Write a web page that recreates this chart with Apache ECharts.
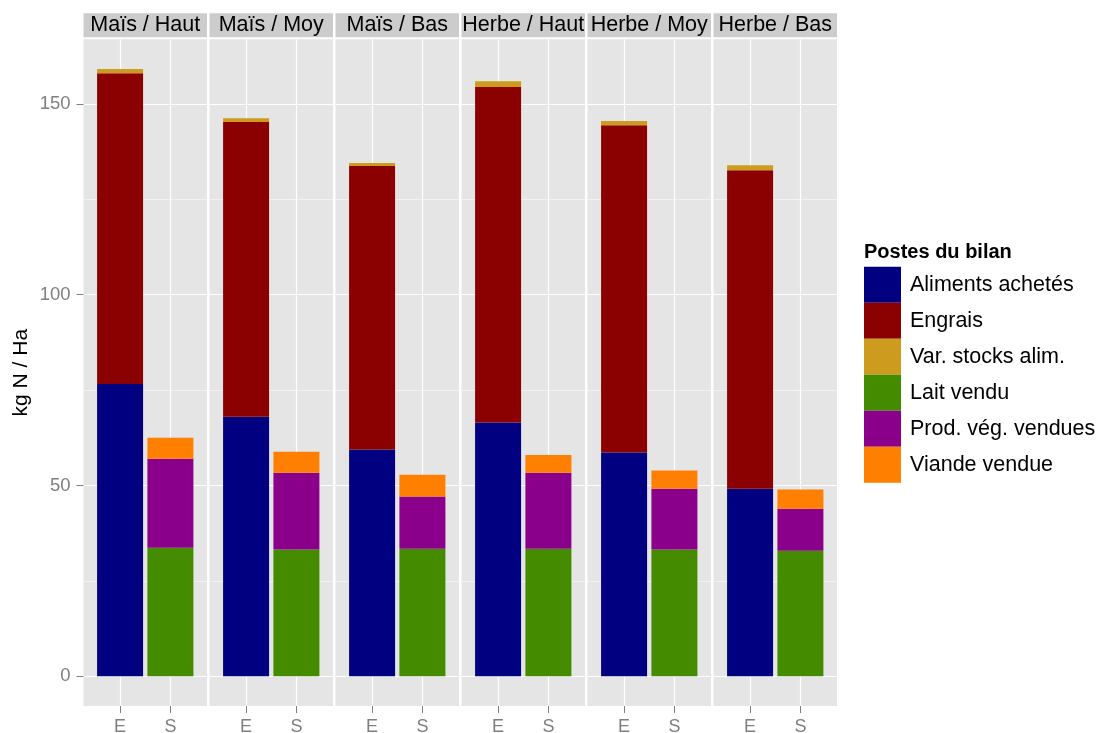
<!DOCTYPE html>
<html><head><meta charset="utf-8">
<script src="https://cdn.jsdelivr.net/npm/echarts@6/dist/echarts.min.js"></script>
<style>html,body{margin:0;padding:0;background:#fff}#c{width:1097px;height:733px}</style>
</head><body><div id="c"></div>
<script>
// ---- data ----
const panels = ['Maïs / Haut', 'Maïs / Moy', 'Maïs / Bas', 'Herbe / Haut', 'Herbe / Moy', 'Herbe / Bas'];
const sides = ['E', 'S'];
const postes = ['Aliments achetés', 'Engrais', 'Var. stocks alim.', 'Lait vendu', 'Prod. vég. vendues', 'Viande vendue'];
const posteSide = ['E', 'E', 'E', 'S', 'S', 'S'];
const alimentsAchetes = [76.6, 68.0, 59.4, 66.5, 58.6, 49.1];
const engrais        = [81.4, 77.2, 74.3, 87.9, 85.8, 83.5];
const varStocks      = [1.1, 1.0, 0.8, 1.5, 1.1, 1.3];
const laitVendu      = [33.7, 33.2, 33.4, 33.4, 33.2, 32.9];
const prodVeg        = [23.3, 20.1, 13.7, 19.9, 15.9, 11.0];
const viandeVendue   = [5.5, 5.5, 5.7, 4.7, 4.8, 5.0];
const yTicks = [0, 50, 100, 150];
const yMinorTicks = [25, 75, 125];
const legendTitle = 'Postes du bilan';
const yTitle = 'kg N / Ha';

// ---- styling / layout ----
const colors = ['#000080', '#8B0000', '#CD9B1D', '#458B00', '#8B008B', '#FF7F00'];
const values = [alimentsAchetes, engrais, varStocks, laitVendu, prodVeg, viandeVendue];
const FONT = '"Liberation Sans", Arial, Helvetica, sans-serif';
const P_LEFT = 83.5, P_STEP = 126, P_W = 123.5, P_TOP = 39.3, P_H = 666.7;
const Y_MIN = -7.8, Y_MAX = 166.9;
const X_MIN = 0.273, X_MAX = 2.727;

const grids = [], xAxes = [], yAxes = [], series = [], graphics = [];
panels.forEach((pn, p) => {
  const left = P_LEFT + p * P_STEP;
  grids.push({left: left, top: P_TOP, width: P_W, height: P_H, show: true,
    backgroundColor: '#E5E5E5', borderWidth: 0, containLabel: false, outerBoundsMode: 'none'});
  xAxes.push({type: 'value', gridIndex: p, min: X_MIN, max: X_MAX,
    axisLine: {show: false, onZero: false},
    axisTick: {show: true, customValues: [1, 2], length: 7, lineStyle: {color: '#7F7F7F', width: 1}},
    axisLabel: {show: true, customValues: [1, 2], margin: 12, formatter: v => sides[Math.round(v) - 1],
      color: '#7F7F7F', fontSize: 18, fontFamily: FONT},
    splitLine: {show: true, lineStyle: {color: '#FFFFFF', width: 1.2}}
  });
  // minor grid
  yAxes.push({type: 'value', gridIndex: p, min: Y_MIN, max: Y_MAX, position: 'right',
    axisLine: {show: false}, axisLabel: {show: false},
    axisTick: {show: false, customValues: yMinorTicks},
    splitLine: {show: true, lineStyle: {color: '#F2F2F2', width: 1}}
  });
  // major grid
  yAxes.push({type: 'value', gridIndex: p, min: Y_MIN, max: Y_MAX, position: 'left',
    axisLine: {show: false},
    axisTick: {show: p === 0, customValues: yTicks, length: 7, lineStyle: {color: '#7F7F7F', width: 1}},
    axisLabel: {show: p === 0, customValues: yTicks, margin: 13, color: '#7F7F7F', fontSize: 18.5, fontFamily: FONT},
    splitLine: {show: true, lineStyle: {color: '#FFFFFF', width: 1.2}},
    name: p === 0 ? yTitle : '', nameLocation: 'middle', nameGap: 52, nameRotate: 90,
    nameTextStyle: {color: '#000', fontSize: 21, fontFamily: FONT}
  });
  postes.forEach((nm, k) => {
    series.push({type: 'bar', name: nm, stack: 'st' + p, xAxisIndex: p, yAxisIndex: 2 * p + 1,
      barWidth: 46, itemStyle: {color: colors[k]}, emphasis: {disabled: true},
      dimensions: ['val', 'pos'], encode: {x: 'pos', y: 'val'},
      data: sides.map((s, j) => [posteSide[k] === s ? values[k][p] : 0, j + 1])
    });
  });
  graphics.push({type: 'rect', left: left, top: 13.3, shape: {width: P_W, height: 24}, style: {fill: '#CCCCCC'}, silent: true});
  graphics.push({type: 'text', x: left + P_W / 2, y: 25.5, silent: true,
    style: {text: pn, fill: '#000', font: '21.5px ' + FONT, textAlign: 'center', textVerticalAlign: 'middle'}});
});
graphics.push({type: 'text', x: 864, y: 252, silent: true,
  style: {text: legendTitle, fill: '#000', font: 'bold 20px ' + FONT, textAlign: 'left', textVerticalAlign: 'middle'}});

const chart = echarts.init(document.getElementById('c'), null, {renderer: 'canvas'});
chart.setOption({
  animation: false,
  backgroundColor: '#FFFFFF',
  grid: grids, xAxis: xAxes, yAxis: yAxes, series: series,
  legend: {data: postes, orient: 'vertical', left: 864, top: 266.7, padding: 0,
    itemWidth: 37, itemHeight: 36, itemGap: 0, icon: 'rect', selectedMode: false,
    textStyle: {color: '#000', fontSize: 21.5, fontFamily: FONT, padding: [0, 0, 0, 4]}},
  graphic: graphics
});
</script></body></html>
